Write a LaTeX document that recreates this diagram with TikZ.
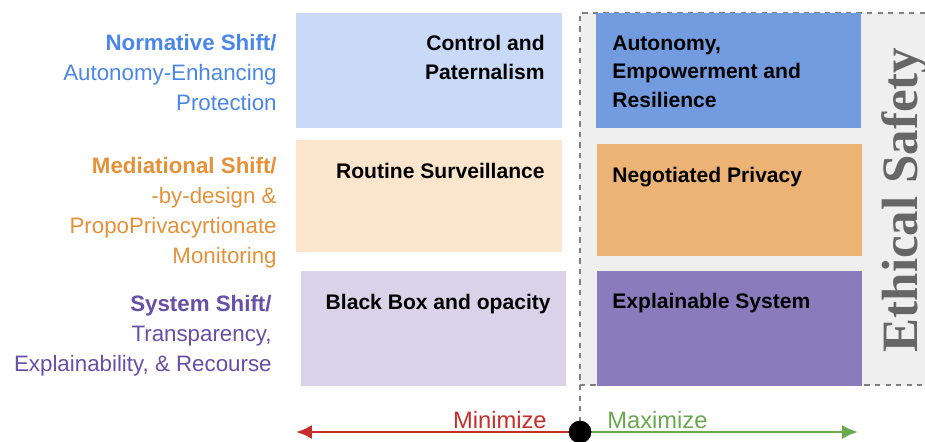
\documentclass[tikz,border=0pt]{standalone}
\usepackage{fontspec}
\setmainfont{Liberation Sans}
\newfontfamily\safetyfont{Liberation Serif}
\usetikzlibrary{arrows.meta}

\definecolor{normblue}{HTML}{4A86E8}
\definecolor{medorange}{HTML}{E69138}
\definecolor{syspurple}{HTML}{674EA7}
\definecolor{normlight}{HTML}{C9DAF8}
\definecolor{medlight}{HTML}{FCE5CD}
\definecolor{syslight}{HTML}{D9D2E9}
\definecolor{normdark}{HTML}{739BE0}
\definecolor{meddark}{HTML}{EDB374}
\definecolor{sysdark}{HTML}{8A7BBD}
\definecolor{panelgray}{HTML}{EFEFEF}
\definecolor{safetygray}{HTML}{666666}
\definecolor{minred}{HTML}{C62D28}
\definecolor{maxgreen}{HTML}{6AA84F}

\begin{document}
\begin{tikzpicture}[x=0.02cm, y=-0.02cm,
        rowlabel/.style={anchor=base east, align=right, inner sep=0pt, font=\fontsize{12.7}{17}\selectfont},
        cell/.style={inner sep=0pt, font=\bfseries\fontsize{12}{16}\selectfont},
        axis/.style={line width=1.6pt, -{Latex[length=9pt, width=8pt]}}]
        \useasboundingbox (0,0) rectangle (925,441);

        % safety panel behind the right column
        \fill[panelgray] (580,13) rectangle (925,385);
        \draw[dashed, gray, thick] (925,13) -- (580,13) -- (580,385) -- (925,385);

        % left column
        \fill[normlight] (296,13) rectangle (562,128);
        \fill[medlight] (296,140) rectangle (562,252);
        \fill[syslight] (301,271) rectangle (566,386);
        % right column
        \fill[normdark] (596,13) rectangle (861,128);
        \fill[meddark] (597,144) rectangle (862,256);
        \fill[sysdark] (597,271) rectangle (862,386);

        % row labels (anchored on the baseline of the last line)
        \node[rowlabel, text=normblue] (normative) at (277,110)
            {\textbf{Normative Shift/}\\Autonomy-Enhancing\\Protection};
        \node[rowlabel, text=medorange] (mediational) at (277,263)
            {\textbf{Mediational Shift/}\\-by-design \&\\PropoPrivacyrtionate\\Monitoring};
        \node[rowlabel, text=syspurple] (system) at (272,371)
            {\textbf{System Shift/}\\Transparency,\\Explainability, \& Recourse};

        \node[cell, anchor=base east, align=right] (control) at (545,79) {Control and\\Paternalism};
        \node[cell, anchor=base east] (routine) at (545,178) {Routine Surveillance};
        \node[cell, anchor=base east] (blackbox) at (551,309) {Black Box and opacity};
        \node[cell, anchor=base west, align=left] (autonomy) at (612,107) {Autonomy,\\Empowerment and\\Resilience};
        \node[cell, anchor=base west] (negotiated) at (612,182) {Negotiated Privacy};
        \node[cell, anchor=base west] (explainable) at (612,308) {Explainable System};

        \node[rotate=90, anchor=base, inner sep=0pt, text=safetygray,
            font=\safetyfont\bfseries\fontsize{29}{30}\selectfont] (safety) at (917,200) {Ethical Safety};

        % minimize / maximize axis
        \coordinate (origin) at (580,432);
        \coordinate (minend) at (296,432);
        \coordinate (maxend) at (858,432);
        \draw[dashed, gray, thick] (580,385) -- (origin);
        \draw[axis, minred] (origin) -- (minend);
        \draw[axis, maxgreen] (origin) -- (maxend);
        \node[anchor=base east, inner sep=0pt, text=minred, font=\fontsize{13.5}{16}\selectfont] (minimize) at (547,428) {Minimize};
        \node[anchor=base west, inner sep=0pt, text=maxgreen, font=\fontsize{13.5}{16}\selectfont] (maximize) at (607,428) {Maximize};
        \filldraw[black] (origin) circle (0.22cm);
    \end{tikzpicture}
\end{document}
